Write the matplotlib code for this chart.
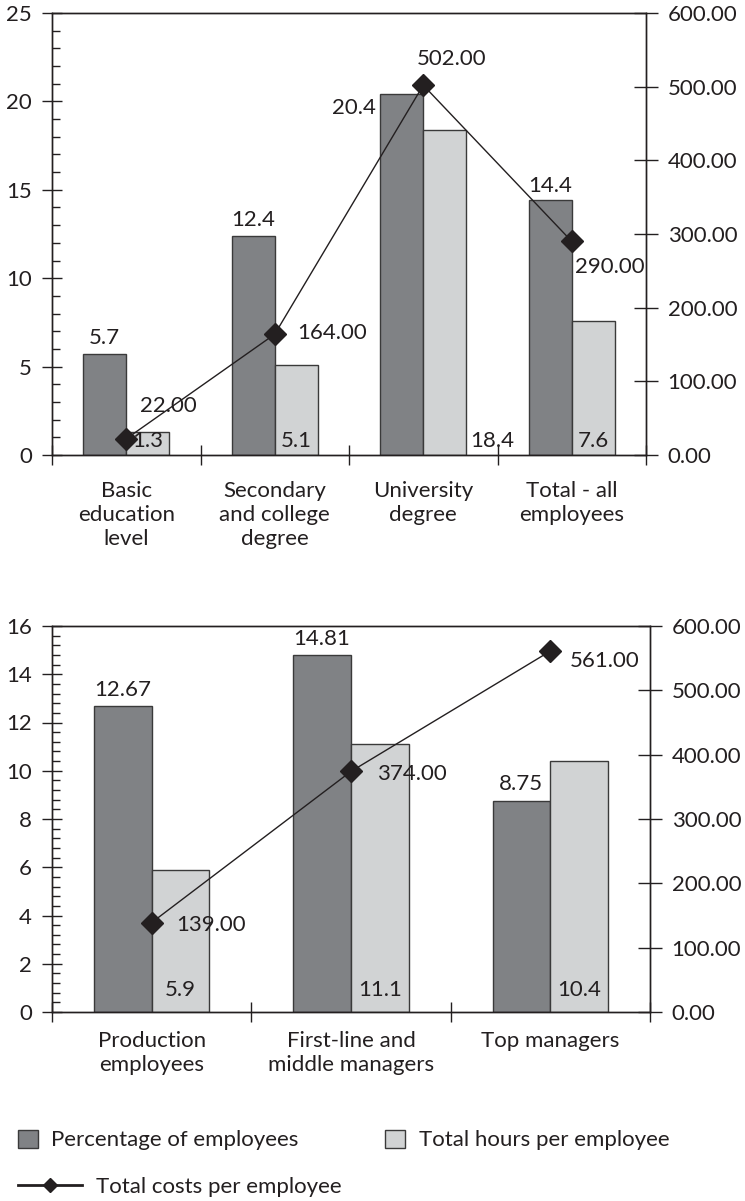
import matplotlib
matplotlib.use('Agg')
from matplotlib import pyplot as plt
from matplotlib.ticker import MultipleLocator
from matplotlib.patches import Patch
from matplotlib.lines import Line2D

# top panel: by education
edu_cats = ['Basic\neducation\nlevel', 'Secondary\nand college\ndegree', 'University\ndegree', 'Total - all\nemployees']
edu_pct = [5.7, 12.4, 20.4, 14.4]
edu_hours = [1.3, 5.1, 18.4, 7.6]
edu_costs = [22.00, 164.00, 502.00, 290.00]

# bottom panel: by position
pos_cats = ['Production\nemployees', 'First-line and\nmiddle managers', 'Top managers']
pos_pct = [12.67, 14.81, 8.75]
pos_hours = [5.9, 11.1, 10.4]
pos_costs = [139.00, 374.00, 561.00]

pct_labels_top = ['5.7', '12.4', '20.4', '14.4']
hrs_labels_top = ['1.3', '5.1', '18.4', '7.6']
pct_labels_bot = ['12.67', '14.81', '8.75']
hrs_labels_bot = ['5.9', '11.1', '10.4']

plt.rcParams['font.family'] = ['Lato', 'DejaVu Sans']
plt.rcParams['font.size'] = 16

txt = '#231f20'
dark = '#808285'
light = '#d1d3d4'
edge = '#3a3a3a'
W, H = 745, 1201
bw = 0.29

fig = plt.figure(figsize=(W / 100, H / 100), dpi=100)
ax1 = fig.add_axes([52 / W, 1 - 455 / H, (646 - 52) / W, (455 - 13) / H])
ax3 = fig.add_axes([52 / W, 1 - 1012 / H, (650 - 52) / W, (1012 - 626) / H])


def panel(ax, cats, pct, hours, costs, pct_lab, hrs_lab, ymax, ymaj, ymin_step,
          pct_off, hrs_off, cost_off, hrs_base, cat_pad):
    n = len(cats)
    x = list(range(n))
    ax.bar([i - bw / 2 for i in x], pct, bw, color=dark, edgecolor=edge, lw=1.0, zorder=2)
    ax.bar([i + bw / 2 for i in x], hours, bw, color=light, edgecolor=edge, lw=1.0, zorder=2)
    ax.set_xlim(-0.5, n - 0.5)
    ax.set_ylim(0, ymax)
    ax.yaxis.set_major_locator(MultipleLocator(ymaj))
    ax.yaxis.set_minor_locator(MultipleLocator(ymin_step))
    ax.set_xticks([i - 0.5 for i in range(n + 1)])
    ax.set_xticklabels([])
    ax.set_xticks(x, cats, minor=True)
    ax.tick_params(axis='x', which='major', direction='inout', length=14, width=1.0, color=txt)
    ax.tick_params(axis='x', which='minor', length=0, pad=cat_pad, labelsize=16, labelcolor=txt)
    ax.tick_params(axis='y', which='major', direction='inout', length=15, width=1.0, color=txt,
                   pad=7, labelsize=16, labelcolor=txt)
    ax.tick_params(axis='y', which='minor', direction='in', length=6, width=1.0, color=txt)
    for lab in ax.get_xticklabels(minor=True):
        lab.set_linespacing(1.25)
    for s in ax.spines.values():
        s.set_color(txt)
        s.set_linewidth(1.0)

    # percentage labels
    for i, v in enumerate(pct):
        dx, dy, ha = pct_off[i]
        ax_x = i - bw / 2 if ha == 'center' else i - bw
        ax.annotate(pct_lab[i], (ax_x, v), xytext=(dx, dy), textcoords='offset pixels',
                    ha=ha, va='center', color=txt, fontsize=16, zorder=5)
    # hours labels
    for i, v in enumerate(hours):
        dx, ha = hrs_off[i]
        ax_x = i + bw / 2 if ha == 'center' else i + bw
        ax.annotate(hrs_lab[i], (ax_x, 0), xytext=(dx, hrs_base), textcoords='offset pixels',
                    ha=ha, va='center', color=txt, fontsize=16, zorder=5)

    ax2 = ax.twinx()
    ax2.plot(x, costs, color=txt, lw=1.0, marker='D', ms=11, mfc=txt, mec=txt, zorder=4)
    ax2.set_ylim(0, 600)
    ax2.yaxis.set_major_locator(MultipleLocator(100))
    ax2.yaxis.set_major_formatter(lambda v, p: f'{v:.2f}')
    ax2.tick_params(axis='y', direction='inout', length=17, width=1.0, color=txt, pad=7,
                    labelsize=16, labelcolor=txt)
    for s in ax2.spines.values():
        s.set_color(txt)
        s.set_linewidth(1.0)
    for i, c in enumerate(costs):
        dx, dy, ha = cost_off[i]
        ax2.annotate(f'{c:.2f}', (i, c), xytext=(dx, dy), textcoords='offset pixels',
                     ha=ha, va='center', color=txt, fontsize=16, zorder=5)
    return ax2


panel(ax1, edu_cats, edu_pct, edu_hours, edu_costs, pct_labels_top, hrs_labels_top,
      25, 5, 1,
      pct_off=[(0, 16, 'center'), (0, 16, 'center'), (-4, -14, 'right'), (0, 14, 'center')],
      hrs_off=[(0, 'center'), (0, 'center'), (4, 'left'), (0, 'center')],
      cost_off=[(14, 33, 'left'), (22, 1, 'left'), (28, 26, 'center'), (3, -26, 'left')],
      hrs_base=14, cat_pad=19)

panel(ax3, pos_cats, pos_pct, pos_hours, pos_costs, pct_labels_bot, hrs_labels_bot,
      16, 2, 0.4,
      pct_off=[(0, 16, 'center'), (0, 16, 'center'), (0, 17, 'center')],
      hrs_off=[(0, 'center'), (0, 'center'), (0, 'center')],
      cost_off=[(25, -2, 'left'), (26, -3, 'left'), (19, -10, 'left')],
      hrs_base=22, cat_pad=14)

# legend
bar_handles = [Patch(facecolor=dark, edgecolor=edge, lw=1.0),
               Patch(facecolor=light, edgecolor=edge, lw=1.0)]
fig.legend(bar_handles, ['Percentage of employees', 'Total hours per employee'],
           loc='center left', bbox_to_anchor=(18 / W, 1 - 1140 / H), ncol=2,
           frameon=False, borderpad=0, borderaxespad=0,
           handlelength=0.9, handleheight=0.9, handletextpad=0.6,
           columnspacing=3.9, fontsize=16, labelcolor=txt)
line_handle = Line2D([], [], color=txt, lw=2.0, marker='D', ms=7, mfc=txt, mec=txt)
fig.legend([line_handle], ['Total costs per employee'],
           loc='center left', bbox_to_anchor=(18 / W, 1 - 1187 / H),
           frameon=False, borderpad=0, borderaxespad=0,
           handlelength=2.9, handletextpad=0.6, fontsize=16, labelcolor=txt)

fig.savefig('out.png', dpi=100)
